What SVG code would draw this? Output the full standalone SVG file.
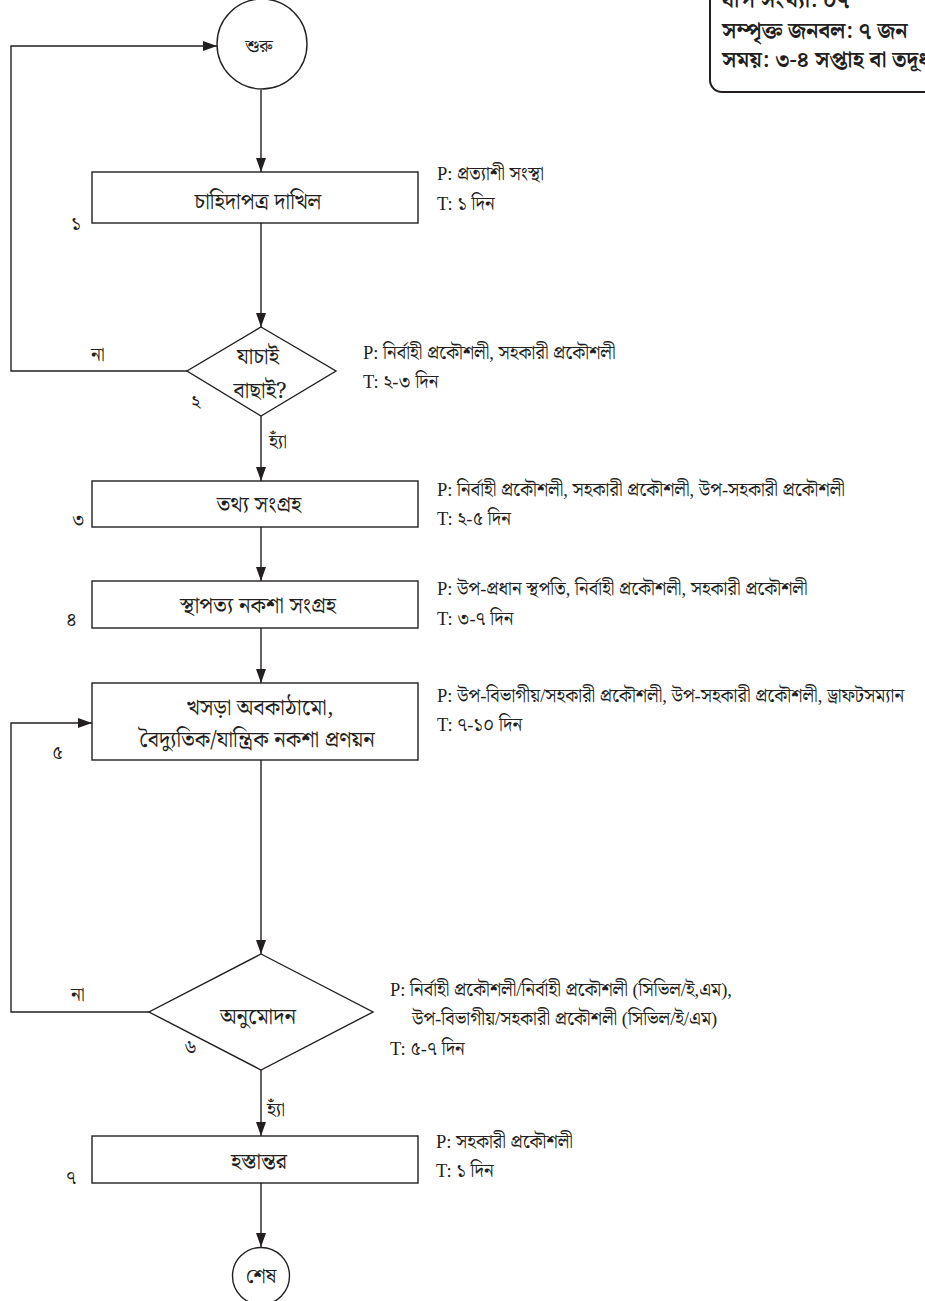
<svg xmlns="http://www.w3.org/2000/svg" width="925" height="1301" viewBox="0 0 925 1301">
<style>
.shape{fill:#fff;stroke:#231f20;stroke-width:1.4}
.conn{fill:none;stroke:#231f20;stroke-width:1.4}
.bn{font-family:"Noto Serif Bengali","Noto Sans Bengali","Lohit Bengali","Noto Sans",sans-serif;fill:#231f20}
.main{font-size:22px;text-anchor:middle}
.num{font-size:19px}
.side{font-family:"Liberation Serif","Noto Serif Bengali","Noto Sans Bengali",serif;font-size:18.5px;fill:#231f20}
.info{font-size:22px;font-weight:bold}
</style>
<defs>
<marker id="ah" viewBox="0 0 14 10" refX="14" refY="5" markerWidth="14" markerHeight="10" markerUnits="userSpaceOnUse" orient="auto">
<path d="M0,0 L14,5 L0,10 Z" fill="#231f20"/>
</marker>
</defs>
<rect width="925" height="1301" fill="#fff"/>

<g id="info">
<path d="M710,-5 V80 A12,12 0 0 0 722,92 H935" fill="#fff" stroke="#231f20" stroke-width="2"/>
<text class="bn info" x="722" y="7">ধাপ সংখ্যা: ০৭</text>
<text class="bn info" x="722" y="38">সম্পৃক্ত জনবল: ৭ জন</text>
<text class="bn info" x="722" y="67">সময়: ৩-৪ সপ্তাহ বা তদূর্ধ্ব</text>
</g>

<g id="connectors">
<line class="conn" x1="261" y1="90" x2="261" y2="172" marker-end="url(#ah)"/>
<line class="conn" x1="261" y1="223" x2="261" y2="327" marker-end="url(#ah)"/>
<polyline class="conn" points="187,371 11,371 11,46 217,46" marker-end="url(#ah)"/>
<line class="conn" x1="261" y1="416" x2="261" y2="481" marker-end="url(#ah)"/>
<line class="conn" x1="261" y1="527" x2="261" y2="581" marker-end="url(#ah)"/>
<line class="conn" x1="261" y1="628" x2="261" y2="683" marker-end="url(#ah)"/>
<line class="conn" x1="261" y1="760" x2="261" y2="954" marker-end="url(#ah)"/>
<polyline class="conn" points="149,1012 11,1012 11,723 92,723" marker-end="url(#ah)"/>
<line class="conn" x1="261" y1="1070" x2="261" y2="1136" marker-end="url(#ah)"/>
<line class="conn" x1="261" y1="1183" x2="261" y2="1247" marker-end="url(#ah)"/>
<text class="bn num" x="91" y="361">না</text>
<text class="bn num" x="269" y="448">হ্যাঁ</text>
<text class="bn num" x="71" y="1001">না</text>
<text class="bn num" x="267" y="1116">হ্যাঁ</text>
</g>

<g id="start">
<circle class="shape" cx="262" cy="44" r="45"/>
<text class="bn" x="259" y="52" font-size="18" text-anchor="middle">শুরু</text>
</g>

<g id="step1">
<rect class="shape" x="92" y="172" width="326" height="51"/>
<text class="bn main" x="258" y="209">চাহিদাপত্র দাখিল</text>
<text class="bn num" x="71" y="230">১</text>
<text class="side" x="437" y="180">P: প্রত্যাশী সংস্থা</text>
<text class="side" x="437" y="210">T: ১ দিন</text>
</g>

<g id="step2">
<polygon class="shape" points="261,327 336,371 261,416 187,371"/>
<text class="bn main" x="258" y="364">যাচাই</text>
<text class="bn main" x="260" y="398">বাছাই?</text>
<text class="bn num" x="191" y="408">২</text>
<text class="side" x="363" y="359">P: নির্বাহী প্রকৌশলী, সহকারী প্রকৌশলী</text>
<text class="side" x="363" y="388">T: ২-৩ দিন</text>
</g>

<g id="step3">
<rect class="shape" x="92" y="481" width="326" height="46"/>
<text class="bn main" x="259" y="512">তথ্য সংগ্রহ</text>
<text class="bn num" x="72" y="526">৩</text>
<text class="side" x="437" y="496">P: নির্বাহী প্রকৌশলী, সহকারী প্রকৌশলী, উপ-সহকারী প্রকৌশলী</text>
<text class="side" x="437" y="525">T: ২-৫ দিন</text>
</g>

<g id="step4">
<rect class="shape" x="92" y="581" width="326" height="47"/>
<text class="bn main" x="258" y="613">স্থাপত্য নকশা সংগ্রহ</text>
<text class="bn num" x="66" y="626">৪</text>
<text class="side" x="437" y="595">P: উপ-প্রধান স্থপতি, নির্বাহী প্রকৌশলী, সহকারী প্রকৌশলী</text>
<text class="side" x="437" y="625">T: ৩-৭ দিন</text>
</g>

<g id="step5">
<rect class="shape" x="92" y="683" width="326" height="77"/>
<text class="bn main" x="260" y="715">খসড়া অবকাঠামো,</text>
<text class="bn main" x="257" y="747">বৈদ্যুতিক/যান্ত্রিক নকশা প্রণয়ন</text>
<text class="bn num" x="52" y="759">৫</text>
<text class="side" x="437" y="702">P: উপ-বিভাগীয়/সহকারী প্রকৌশলী, উপ-সহকারী প্রকৌশলী, ড্রাফটসম্যান</text>
<text class="side" x="437" y="731">T: ৭-১০ দিন</text>
</g>

<g id="step6">
<polygon class="shape" points="261,954 373,1012 261,1070 149,1012"/>
<text class="bn main" x="258" y="1024">অনুমোদন</text>
<text class="bn num" x="184" y="1053">৬</text>
<text class="side" x="390" y="996">P: নির্বাহী প্রকৌশলী/নির্বাহী প্রকৌশলী (সিভিল/ই,এম),</text>
<text class="side" x="412" y="1025">উপ-বিভাগীয়/সহকারী প্রকৌশলী (সিভিল/ই/এম)</text>
<text class="side" x="390" y="1055">T: ৫-৭ দিন</text>
</g>

<g id="step7">
<rect class="shape" x="92" y="1136" width="326" height="47"/>
<text class="bn main" x="259" y="1169">হস্তান্তর</text>
<text class="bn num" x="66" y="1184">৭</text>
<text class="side" x="436" y="1148">P: সহকারী প্রকৌশলী</text>
<text class="side" x="436" y="1177">T: ১ দিন</text>
</g>

<g id="end">
<circle class="shape" cx="261" cy="1276" r="28.5"/>
<text class="bn" x="261" y="1283" font-size="20" text-anchor="middle">শেষ</text>
</g>
</svg>
